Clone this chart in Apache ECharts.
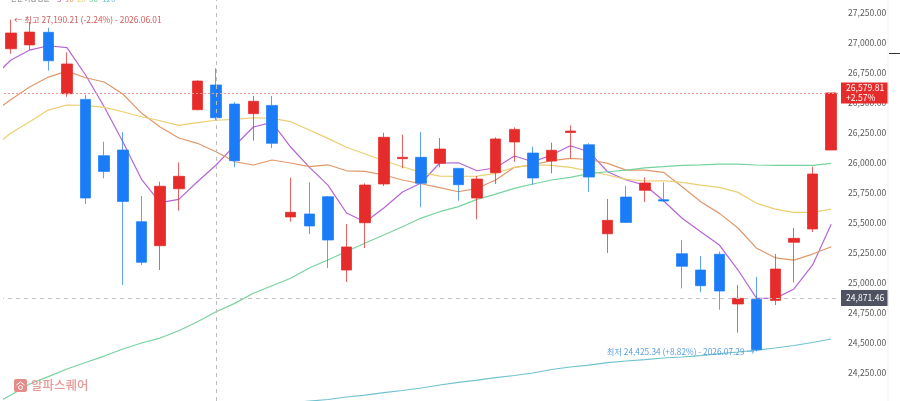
<!DOCTYPE html>
<html><head><meta charset="utf-8">
<style>html,body{margin:0;padding:0;background:#fff}#c{width:900px;height:401px}</style>
<script src="https://cdn.jsdelivr.net/npm/echarts@6/dist/echarts.min.js"></script>
</head><body><div id="c"></div>
<script>
const FONT = '"Noto Sans CJK KR","Noto Sans",sans-serif';
const yTicks = [24250,24500,24750,25000,25250,25500,25750,26000,26250,26500,26750,27000,27250];
const yMin = 24012.5, yMax = 27354.2;
const xMin = -0.59, xMax = 44.47;
const lastPrice = 26579.81, lastChange = '+2.57%', refPrice = 24871.46;
const highPrice = 27190.21, lowPrice = 24425.34;
const highLabel = '← 최고 27,190.21 (-2.24%) - 2026.06.01';
const lowLabel = '최저 24,425.34 (+8.82%) - 2026.07.29 →';
const legendTitle = '단순이동평균';
// open, close, low, high of each visible session
const candles = [
 [26948,27079,26906,27190.21],[26980,27087,26937,27171],[27085,26848,26765,27123],[26573,26821,26548,26918],
 [26526,25704,25654,26562],[26057,25926,25868,26173],[26104,25676,24979,26254],[25507,25168,25146,25721],
 [25307,25802,25104,25840],[25781,25885,25598,26001],[26440,26679,26435,26685],[26646,26373,26354,26785],
 [26487,26015,25960,26504],[26407,26510,26182,26554],[26476,26160,26121,26554],[25546,25585,25507,25873],
 [25571,25471,25404,25835],[25715,25354,25121,25721],[25104,25296,25004,25487],[25498,25812,25287,25826],
 [25821,26210,25804,26248],[26032,26043,25951,26232],[26043,25827,25627,26254],[25993,26112,25960,26204],
 [25951,25815,25681,25955],[25704,25862,25526,25887],[25915,26196,25821,26210],[26171,26276,26006,26293],
 [26079,25871,25815,26132],[26012,26102,25910,26165],[26250,26262,26035,26310],[26148,25879,25756,26160],
 [25406,25518,25246,25696],[25712,25501,25500,25806],[25768,25829,25671,25876],[25690,25679,25675,25835],
 [25240,25135,24951,25354],[25104,24973,24918,25221],[25235,24929,24773,25257],[24821,24868,24582,24979],
 [24860,24440,24425.34,25048],[24851,25112,24812,25237],[25335,25368,25000,25454],[25446,25904,25421,25965],
 [26104,26579.81,26104,26579.81]
];
// moving averages: first value belongs to the session just left of the window
const ma5 = [26704,26854,26937,26973,26957,26729,26465,26173,25860,25665,25693,25840,25979,26140,26296,26335,26129,25962,25812,25579,25504,25621,25754,25829,25996,25998,25931,25956,26054,26006,26062,26140,26090,25923,25854,25812,25681,25535,25423,25312,25104,24868,24868,24946,25146,25485];
const ma10 = [26412,26525,26629,26712,26762,26706,26671,26571,26412,26296,26204,26160,26090,26006,25979,26021,25996,25965,25981,25931,25926,25896,25854,25823,25790,25756,25785,25854,25960,25981,26015,26035,26025,25993,25937,25937,25918,25798,25673,25576,25454,25285,25206,25187,25237,25298];
const ma20 = [26121,26246,26340,26437,26479,26476,26460,26423,26381,26348,26310,26332,26352,26360,26373,26368,26340,26271,26201,26127,26071,26015,25965,25918,25887,25885,25887,25910,25960,25981,25976,25960,25929,25896,25860,25846,25848,25835,25812,25793,25751,25660,25612,25585,25585,25612];
const ma60 = [23979,24062,24154,24216,24279,24333,24387,24446,24496,24537,24598,24673,24756,24826,24910,24973,25035,25121,25187,25258,25329,25396,25465,25537,25590,25632,25693,25737,25785,25821,25854,25876,25908,25923,25937,25956,25965,25976,25981,25987,25987,25979,25976,25976,25976,25993];
const ma120 = [null,null,null,null,null,null,null,null,null,null,null,null,null,null,null,null,23996,24012,24025,24046,24062,24083,24100,24121,24146,24167,24187,24208,24225,24246,24275,24296,24312,24333,24346,24358,24371,24379,24391,24408,24421,24437,24454,24475,24500,24529];
const RED='#e62b2b', BLUE='#1b7cf7';
const C5='#b565d6', C10='#e0976a', C20='#eccf6f', C60='#76d3a0', C120='#6fc3cf';
const crossIdx = 11, hiIdx = 0, loIdx = 40;

const pairs = arr => arr.map((v,i)=>[i-1,v]).filter(p=>p[1]!==null);
const line = (name,data,color)=>({name,type:'line',data:pairs(data),showSymbol:false,symbol:'none',silent:true,
  lineStyle:{color,width:1.2},z:3,animation:false});
const fmt = v=>v.toLocaleString('en-US',{minimumFractionDigits:2,maximumFractionDigits:2});
const legendText = (x,text,fill)=>({type:'text',x,y:-5,z:20,silent:true,style:{text,fill,fontFamily:FONT,fontSize:8}});

const chart = echarts.init(document.getElementById('c'),null,{renderer:'canvas'});
chart.setOption({
 animation:false,
 backgroundColor:'#fff',
 textStyle:{fontFamily:FONT},
 grid:{left:0,right:60,top:0,bottom:0,containLabel:false},
 xAxis:{type:'value',min:xMin,max:xMax,axisLine:{show:false},axisTick:{show:false},axisLabel:{show:false},splitLine:{show:false}},
 yAxis:{type:'value',position:'right',min:yMin,max:yMax,
   axisLine:{show:false},axisTick:{show:false},splitLine:{show:false},
   axisLabel:{margin:8,color:'#5a5a5a',fontSize:8.6,fontFamily:FONT,customValues:yTicks,formatter:fmt}},
 series:[
  {name:'candles',type:'candlestick',data:candles.map((c,i)=>[i,...c]),barWidth:11,z:4,
   itemStyle:{color:RED,color0:BLUE,borderColor:'rgba(230,43,43,0.75)',borderColor0:'rgba(27,124,247,0.7)',borderWidth:1},
   markLine:{symbol:'none',silent:true,animation:false,precision:2,
    data:[
     {xAxis:crossIdx,lineStyle:{color:'#bdbdbd',type:[4,4],width:1},label:{show:false}},
     {yAxis:refPrice,lineStyle:{color:'#c4c4c4',type:[4,4],width:1},
      label:{show:true,position:'end',distance:1,formatter:fmt(refPrice),color:'#fff',fontSize:8.6,fontFamily:FONT,
       backgroundColor:'#4e5261',padding:[2,4,2,5],lineHeight:12,align:'left'}},
     {yAxis:lastPrice,lineStyle:{color:'#ee9a9a',type:[2,2],width:1},
      label:{show:true,position:'end',distance:1,formatter:fmt(lastPrice)+'\n'+lastChange,color:'#fff',fontSize:8.6,fontFamily:FONT,
       backgroundColor:RED,padding:[0,4,0,5],lineHeight:10.5,align:'left'}}
    ]},
   markPoint:{symbol:'circle',symbolSize:0,silent:true,animation:false,
    data:[
     {coord:[hiIdx,highPrice],label:{show:true,position:'right',distance:3,formatter:highLabel,color:'#cf5a58',fontSize:8.4,fontFamily:FONT}},
     {coord:[loIdx,lowPrice],label:{show:true,position:'left',distance:2,formatter:lowLabel,color:'#5b9fdc',fontSize:8.3,fontFamily:FONT}}
    ]}
  },
  line('MA5',ma5,C5),line('MA10',ma10,C10),line('MA20',ma20,C20),line('MA60',ma60,C60),line('MA120',ma120,C120)
 ],
 graphic:[
  {type:'rect',shape:{x:0,y:0,width:3,height:401},style:{fill:'#fff'},z:20,silent:true},
  {type:'line',shape:{x1:888,y1:0,x2:888,y2:401},style:{stroke:'#f1f1f1',lineWidth:1},z:20,silent:true},
  {type:'line',shape:{x1:889,y1:53.5,x2:900,y2:53.5},style:{stroke:'#333',lineWidth:1},z:20,silent:true},
  {type:'text',x:10.5,y:-5,z:20,silent:true,style:{text:legendTitle,fill:'#777',fontFamily:FONT,fontSize:7.2}},
  legendText(57,'5',C5),legendText(65,'10',C10),legendText(77,'20',C20),legendText(89,'60',C60),legendText(102,'120',C120),
  {type:'rect',shape:{x:14,y:379,width:13,height:13,r:2},style:{fill:'#e58c8a'},z:20,silent:true},
  {type:'polyline',shape:{points:[[16.5,385],[20.5,382],[24.5,385]]},style:{stroke:'#fff',fill:'none',lineWidth:1},z:21,silent:true},
  {type:'circle',shape:{cx:20.5,cy:387.5,r:2},style:{stroke:'#fff',fill:'none',lineWidth:1},z:21,silent:true},
  {type:'text',x:31,y:378.5,z:20,silent:true,style:{text:'알파스퀘어',fontFamily:FONT,fontSize:12.5,fill:'#e79b99',fontWeight:500}}
 ]
});
</script></body></html>
